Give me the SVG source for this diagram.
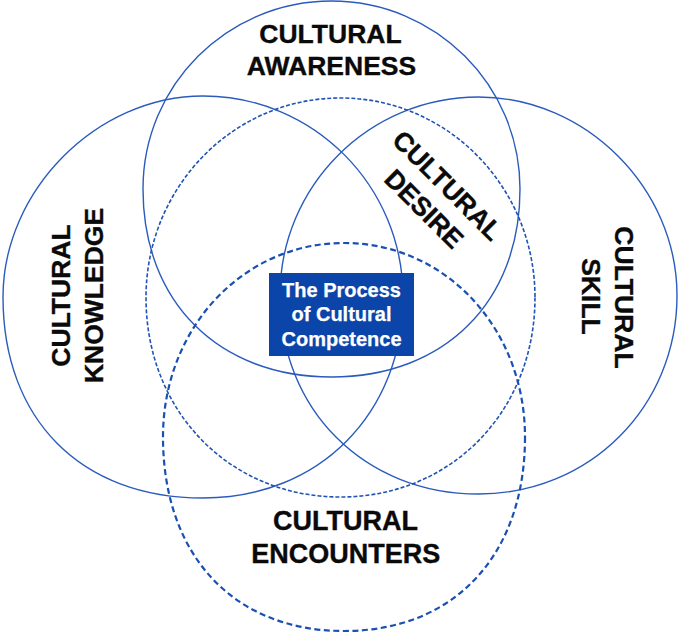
<svg xmlns="http://www.w3.org/2000/svg" width="681" height="634" viewBox="0 0 681 634">
  <defs>
    <style>
      .solid { fill: none; stroke: #2a5bbd; stroke-width: 1.4; }
      .dash1 { fill: none; stroke: #1f53b6; stroke-width: 1.6; stroke-dasharray: 4 2; }
      .dash2 { fill: none; stroke: #1a4fb3; stroke-width: 2.2; stroke-dasharray: 6 3.5; }
      .lbl { font-family: "Liberation Sans", Arial, Helvetica, sans-serif; font-weight: bold; font-size: 26.5px; fill: #0a0a0a; stroke: #0a0a0a; stroke-width: 0.35; text-anchor: middle; }
      .boxtxt { font-family: "Liberation Sans", Arial, Helvetica, sans-serif; font-weight: bold; font-size: 20px; fill: #ffffff; stroke: #ffffff; stroke-width: 0.25; text-anchor: middle; }
    </style>
  </defs>
  <rect x="0" y="0" width="681" height="634" fill="#ffffff"/>

  <g id="cultural-awareness">
    <path class="solid" d="M 520,189 C 520,301.8 444.6,377 331.5,377 C 218.4,377 143,301.8 143,189 C 143,85.2 227.4,1 331.5,1 C 435.6,1 520,85.2 520,189 Z"/>
    <text class="lbl" x="330.5" y="43">CULTURAL</text>
    <text class="lbl" x="331.5" y="75">AWARENESS</text>
  </g>

  <g id="cultural-knowledge">
    <path class="solid" d="M 403,297 C 403,413.6 319,498 203,498 C 81,498 3,419.6 3,297 C 3,190.5 97,96 203,96 C 313.5,96 403,186 403,297 Z"/>
    <g transform="translate(0,295.5) rotate(-90)">
      <text class="lbl" x="0" y="70">CULTURAL</text>
      <text class="lbl" x="0" y="102.5">KNOWLEDGE</text>
    </g>
  </g>

  <g id="cultural-skill">
    <path class="solid" d="M 677,295.5 C 677,406.7 589.7,494 478.5,494 C 364.4,494 280,409.6 280,295.5 C 280,185.9 368.9,97 478.5,97 C 585.7,97 677,188.3 677,295.5 Z"/>
    <g transform="translate(615,297.5) rotate(90)">
      <text class="lbl" x="0" y="0">CULTURAL</text>
    </g>
    <g transform="translate(582,296.5) rotate(90)">
      <text class="lbl" x="0" y="0">SKILL</text>
    </g>
  </g>

  <g id="cultural-desire">
    <path class="dash1" d="M 535,297.5 C 535,411.2 451.4,497 340.5,497 C 229.6,497 146,411.2 146,297.5 C 146,187.3 233.1,98 340.5,98 C 447.9,98 535,187.3 535,297.5 Z"/>
    <g transform="translate(436,197) rotate(45)">
      <text class="lbl" x="0" y="-7">CULTURAL</text>
      <text class="lbl" x="0" y="26">DESIRE</text>
    </g>
  </g>

  <g id="cultural-encounters">
    <path class="dash2" d="M 525,437 C 525,555.3 454.4,631 344,631 C 233.6,631 163,555.3 163,437 C 163,328.4 242.6,243 344,243 C 445.4,243 525,328.4 525,437 Z"/>
    <text class="lbl" x="345.5" y="530" style="font-size:27px">CULTURAL</text>
    <text class="lbl" x="345.8" y="562.5" style="font-size:27px">ENCOUNTERS</text>
  </g>

  <g id="process-of-cultural-competence">
    <rect x="269" y="273" width="145" height="83" fill="#0b45a9"/>
    <text class="boxtxt" x="341.5" y="297">The Process</text>
    <text class="boxtxt" x="341.5" y="321.3">of Cultural</text>
    <text class="boxtxt" x="341.5" y="345.6">Competence</text>
  </g>

  <g id="connectors"/>
</svg>
